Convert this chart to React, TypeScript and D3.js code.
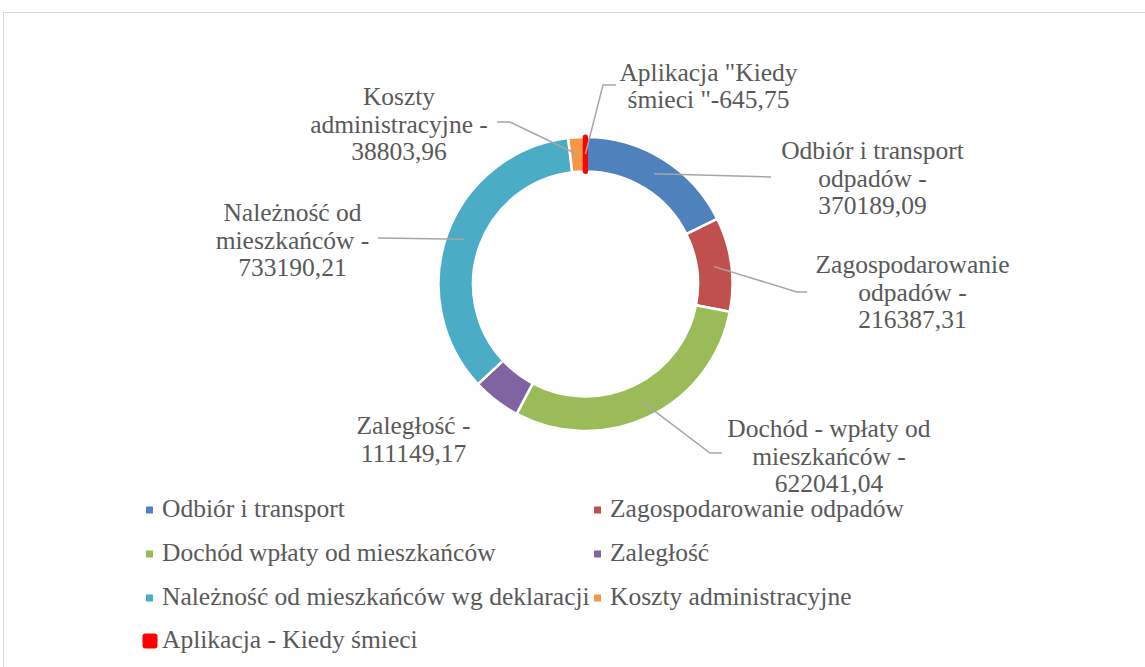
import React from "react";
import * as d3 from "d3";

// ---- data ----
const categories = [
  "Odbiór i transport",
  "Zagospodarowanie odpadów",
  "Dochód wpłaty od mieszkańców",
  "Zaległość",
  "Należność od mieszkańców wg deklaracji",
  "Koszty administracyjne",
  "Aplikacja - Kiedy śmieci",
];
const values = [370189.09, 216387.31, 622041.04, 111149.17, 733190.21, 38803.96, 645.75];
const labelTemplates = [
  ["Odbiór i transport", "odpadów -", "{v}"],
  ["Zagospodarowanie", "odpadów -", "{v}"],
  ["Dochód - wpłaty od", "mieszkańców -", "{v}"],
  ["Zaległość -", "{v}"],
  ["Należność od", "mieszkańców -", "{v}"],
  ["Koszty", "administracyjne -", "{v}"],
  ["Aplikacja \"Kiedy", "śmieci \"-{v}"],
];

// ---- styles / layout ----
const colors = ["#4F81BD", "#C0504D", "#9BBB59", "#8064A2", "#4BACC6", "#F79646", "#FF0000"];
const labelLayout = [
  { cx: 872.5, y: 159, leader: [[771, 177]] },
  { cx: 912.5, y: 273, leader: [[797, 292], [807, 292]] },
  { cx: 829, y: 437, leader: [[710, 453], [722, 453]] },
  { cx: 413.5, y: 434, leader: [] },
  { cx: 292.5, y: 221, leader: [[378, 238]] },
  { cx: 399, y: 105, leader: [[510, 122], [497, 122]] },
  { cx: 708.5, y: 80.5, leader: [[603, 85], [616, 85]] },
];
const legendPos = [
  { x: 146, y: 517 },
  { x: 594, y: 517 },
  { x: 146, y: 561 },
  { x: 594, y: 561 },
  { x: 146, y: 605 },
  { x: 594, y: 605 },
  { x: 146, y: 648 },
];

const W = 1145;
const H = 667;
const CX = 585.5;
const CY = 284;
const R_OUT = 147;
const R_IN = 112.5;
const FONT = "'Liberation Serif', 'Times New Roman', serif";
const FS = 25.5;
const LH = 27.5;
const TEXT = "#595959";

const fmt = (v: number) => d3.format(".2f")(v).replace(".", ",");

export default function App() {
  const pie = d3
    .pie<number>()
    .sort(null)
    .value((d) => d)
    .startAngle(0)
    .endAngle(2 * Math.PI);
  const arcs = pie(values);
  const arc = d3.arc<d3.PieArcDatum<number>>().innerRadius(R_IN).outerRadius(R_OUT);

  const order = arcs.map((_, i) => i);

  return (
    <svg
      width={W}
      height={H}
      style={{ position: "absolute", left: 0, top: 0, background: "#fff" }}
      fontFamily={FONT}
    >
      <rect x={3.5} y={12.5} width={1200} height={700} fill="#fff" stroke="#D9D9D9" strokeWidth={1} />
      <g transform={`translate(${CX},${CY})`}>
        {order.map((i) => {
          const a = arcs[i];
          const isApp = i === arcs.length - 1;
          return (
            <path
              key={i}
              d={arc(a) || ""}
              fill={colors[i]}
              stroke={isApp ? "#FF0000" : "#FFFFFF"}
              strokeWidth={isApp ? 5 : 2.5}
              strokeLinejoin="round"
            />
          );
        })}
      </g>
      {/* leader lines */}
      {arcs.map((a, i) => {
        const lay = labelLayout[i];
        if (!lay.leader.length) return null;
        const [x0, y0] = arc.centroid(a);
        const pts: [number, number][] = [[x0 + CX, y0 + CY], ...(lay.leader as [number, number][])];
        const line = d3.line();
        return (
          <path key={"l" + i} d={line(pts) || ""} fill="none" stroke="#A6A6A6" strokeWidth={1.5} />
        );
      })}
      {/* data labels */}
      {arcs.map((a, i) => {
        const lay = labelLayout[i];
        const lines = labelTemplates[i].map((t) => t.replace("{v}", fmt(values[i])));
        return (
          <text key={"t" + i} fontSize={FS} fill={TEXT} textAnchor="middle">
            {lines.map((ln, j) => (
              <tspan key={j} x={lay.cx} y={lay.y + j * LH}>
                {ln}
              </tspan>
            ))}
          </text>
        );
      })}
      {/* legend */}
      {categories.map((c, i) => {
        const p = legendPos[i];
        const isApp = i === categories.length - 1;
        const mcx = p.x + 3.5;
        const mcy = p.y - 7;
        return (
          <g key={"lg" + i}>
            {isApp ? (
              <rect x={mcx - 7.5 + 0.5} y={mcy - 7.5} width={15} height={15} rx={3} fill="#FF0000" />
            ) : (
              <rect x={mcx - 3.5} y={mcy - 3.5} width={7} height={7} fill={colors[i]} />
            )}
            <text x={p.x + 16} y={p.y} fontSize={FS} fill={TEXT}>
              {c}
            </text>
          </g>
        );
      })}
    </svg>
  );
}
